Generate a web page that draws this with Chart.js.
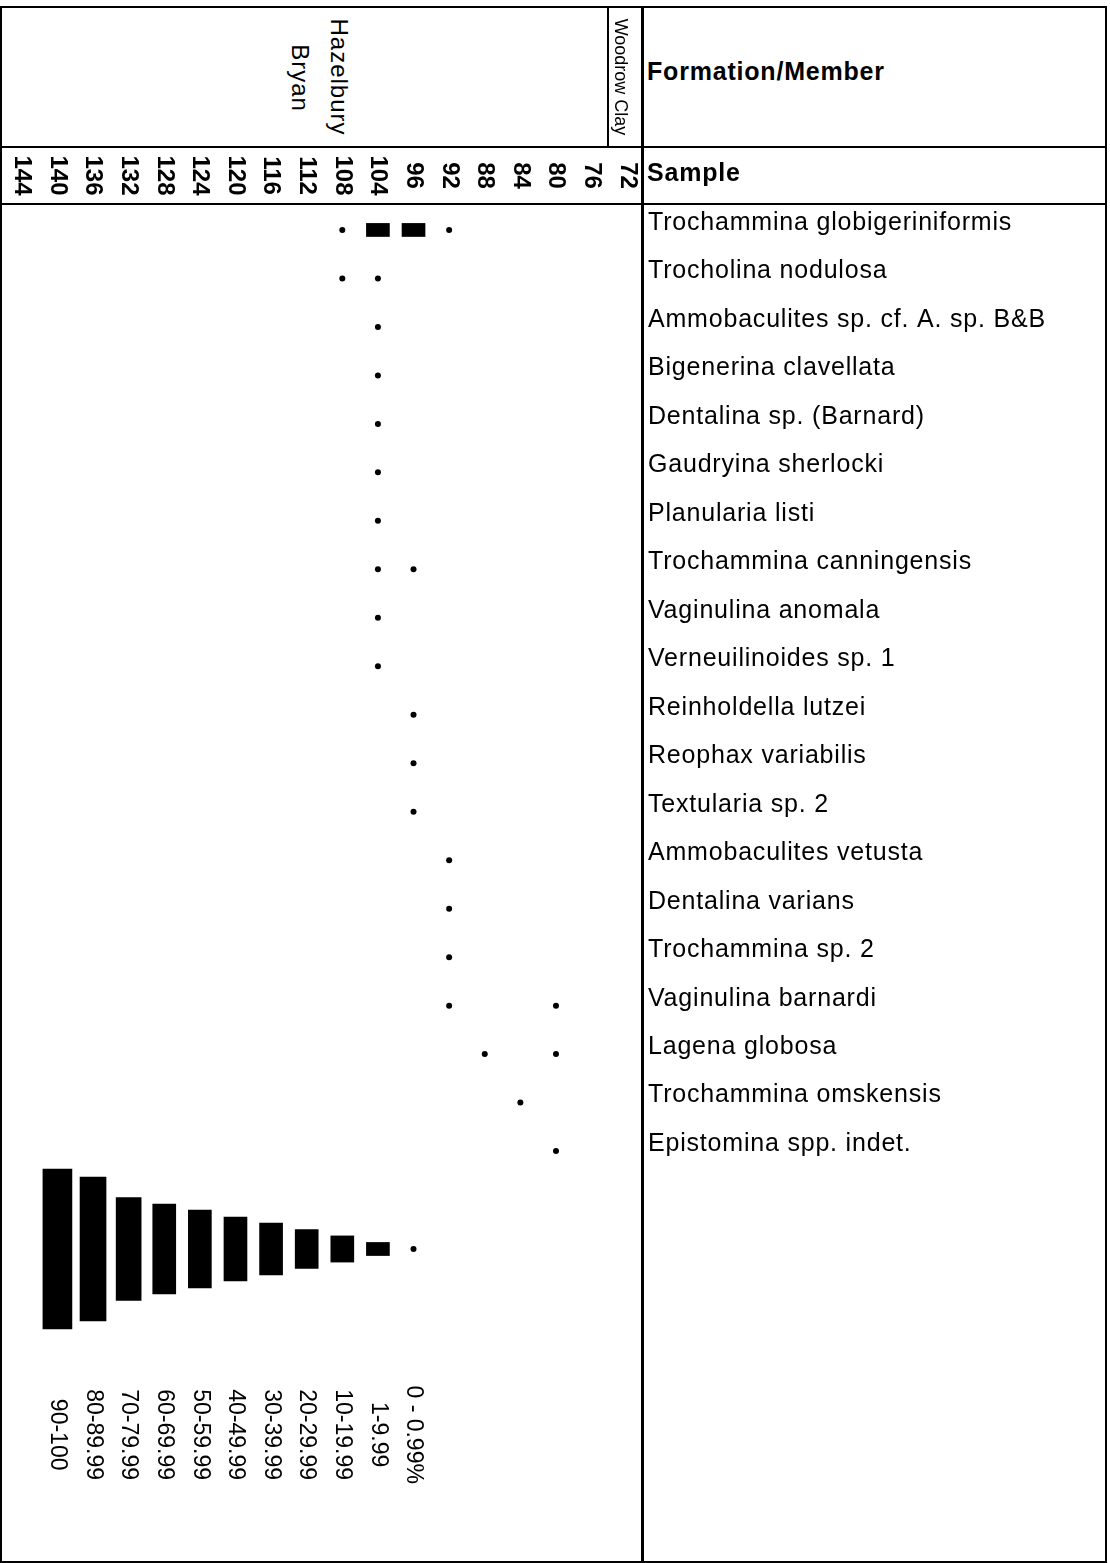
<!DOCTYPE html>
<html>
<head>
<meta charset="utf-8">
<script src="https://cdn.jsdelivr.net/npm/chart.js@4.4.0/dist/chart.umd.min.js"></script>
<style>
  html, body { margin: 0; padding: 0; background: #fff; }
  body { width: 1110px; height: 1563px; position: relative; overflow: hidden;
         font-family: "Liberation Sans", Arial, sans-serif; color: #000; }
  .line { position: absolute; background: #000; }
  .rot { position: absolute; white-space: nowrap; line-height: 1;
         transform: translate(-50%, -50%) rotate(90deg); }
  .head { position: absolute; left: 647px; font-weight: bold; font-size: 25px; letter-spacing: 0.8px;
          line-height: 1; white-space: nowrap; transform: translateY(-50%); }
  #chartBox { position: absolute; left: 0; top: 147px; width: 1110px; height: 1415px; }
</style>
</head>
<body>
<div id="chartBox"><canvas id="rangeChart"></canvas></div>

<!-- table frame -->
<div class="line" style="left:0;top:6px;width:1107px;height:2px"></div>
<div class="line" style="left:0;top:1561px;width:1107px;height:2px"></div>
<div class="line" style="left:0;top:6px;width:2px;height:1557px"></div>
<div class="line" style="left:1105px;top:6px;width:2px;height:1557px"></div>
<div class="line" style="left:0;top:146px;width:1107px;height:2px"></div>
<div class="line" style="left:0;top:203px;width:1107px;height:2px"></div>
<div class="line" style="left:641px;top:6px;width:3px;height:1557px"></div>
<div class="line" style="left:607px;top:6px;width:2px;height:141px"></div>

<!-- formation / member header -->
<div class="rot" style="left:339px;top:77px;font-size:24px;letter-spacing:1px">Hazelbury</div>
<div class="rot" style="left:300px;top:78px;font-size:24px;letter-spacing:1px">Bryan</div>
<div class="rot" style="left:621px;top:77px;font-size:18px">Woodrow Clay</div>
<div class="head" style="top:71px">Formation/Member</div>
<div class="head" style="top:172px">Sample</div>

<script>
// Samples (oldest on the left)
const samples = ['144', '140', '136', '132', '128', '124', '120', '116', '112',
                 '108', '104', '96', '92', '88', '84', '80', '76', '72'];

// Taxa, top to bottom
const species = [
    'Trochammina globigeriniformis',
    'Trocholina nodulosa',
    'Ammobaculites sp. cf. A. sp. B&B',
    'Bigenerina clavellata',
    'Dentalina sp. (Barnard)',
    'Gaudryina sherlocki',
    'Planularia listi',
    'Trochammina canningensis',
    'Vaginulina anomala',
    'Verneuilinoides sp. 1',
    'Reinholdella lutzei',
    'Reophax variabilis',
    'Textularia sp. 2',
    'Ammobaculites vetusta',
    'Dentalina varians',
    'Trochammina sp. 2',
    'Vaginulina barnardi',
    'Lagena globosa',
    'Trochammina omskensis',
    'Epistomina spp. indet.'
];

// Abundance classes (% of assemblage)
const abundanceClasses = ['0 - 0.99%', '1-9.99', '10-19.99', '20-29.99', '30-39.99', '40-49.99',
                          '50-59.99', '60-69.99', '70-79.99', '80-89.99', '90-100'];

// Records: taxon index, sample, abundance class index
const recSpecies = [0, 0, 0, 0, 1, 1, 2, 3, 4, 5, 6, 7, 7, 8, 9, 10, 11, 12, 13, 14, 15, 16, 16, 17, 17, 18, 19];
const recSample = ['108', '104', '96', '92', '108', '104', '104', '104', '104', '104', '104', '104', '96',
                   '104', '104', '96', '96', '96', '92', '92', '92', '92', '80', '88', '80', '84', '80'];
const recClass = [0, 1, 1, 0, 0, 0, 0, 0, 0, 0, 0, 0, 0, 0, 0, 0, 0, 0, 0, 0, 0, 0, 0, 0, 0, 0, 0];

// Key styling: bar height (row units) and bar width (px) of each class
const classHeight = [0, 0.27, 0.54, 0.80, 1.07, 1.32, 1.61, 1.85, 2.12, 2.97, 3.30];
const classWidth = [0, 23, 23, 23, 23, 23, 23, 23, 25, 26, 29];
const keySample = ['96', '104', '108', '112', '116', '120', '124', '128', '132', '136', '140'];
const keyRow = 21.02;
const keyLabelRow = 24.85;

const FONT = '"Liberation Sans", Arial, sans-serif';
Chart.defaults.font.family = FONT;
Chart.defaults.color = '#000';

function barRange(row, c) {
    return [row - classHeight[c] / 2, row + classHeight[c] / 2];
}

const datasets = [];

// rare occurrences as dots, plus the key dot
const dotData = [];
recClass.forEach((c, i) => {
    if (c === 0) dotData.push({ x: recSample[i], y: recSpecies[i] });
});
dotData.push({ x: keySample[0], y: keyRow });
datasets.push({
    type: 'line',
    label: abundanceClasses[0],
    data: dotData,
    showLine: false,
    pointRadius: 3,
    pointBorderWidth: 0,
    pointBackgroundColor: '#000',
    borderColor: '#000'
});

// one bar dataset per abundance class, plus the key bar
for (let c = 1; c < abundanceClasses.length; c++) {
    const data = [];
    recClass.forEach((rc, i) => {
        if (rc === c) data.push({ x: recSample[i], y: barRange(recSpecies[i], c) });
    });
    data.push({ x: keySample[c], y: barRange(keyRow, c) });
    datasets.push({
        type: 'bar',
        label: abundanceClasses[c],
        data: data,
        grouped: false,
        barThickness: classWidth[c],
        backgroundColor: '#000',
        borderWidth: 0
    });
}

// rotated sample labels and key labels
const rotatedLabels = {
    id: 'rotatedLabels',
    beforeDraw(chart) {
        chart.ctx.letterSpacing = '0.8px';
    },
    afterDraw(chart) {
        const ctx = chart.ctx;
        const xs = chart.scales.x;
        const ys = chart.scales.y;
        ctx.save();
        ctx.letterSpacing = '0px';
        ctx.fillStyle = '#000';
        ctx.textAlign = 'center';
        ctx.textBaseline = 'middle';

        ctx.font = 'bold 24px ' + FONT;
        const midY = (xs.top + xs.bottom) / 2;
        xs.ticks.forEach((t, i) => {
            ctx.save();
            ctx.translate(xs.getPixelForTick(i), midY);
            ctx.rotate(Math.PI / 2);
            ctx.fillText(xs.getLabelForValue(t.value), 0, 0);
            ctx.restore();
        });

        ctx.font = '23px ' + FONT;
        const ly = ys.getPixelForValue(keyLabelRow);
        abundanceClasses.forEach((lab, c) => {
            ctx.save();
            ctx.translate(xs.getPixelForValue(samples.indexOf(keySample[c])), ly);
            ctx.rotate(Math.PI / 2);
            ctx.fillText(lab, 0, 0);
            ctx.restore();
        });
        ctx.restore();
    }
};

new Chart(document.getElementById('rangeChart'), {
    type: 'bar',
    data: { labels: samples, datasets: datasets },
    options: {
        responsive: true,
        maintainAspectRatio: false,
        animation: false,
        layout: { padding: { left: 2, right: 0, top: 0, bottom: 2 } },
        plugins: {
            legend: { display: false },
            tooltip: { enabled: false }
        },
        scales: {
            x: {
                type: 'category',
                position: 'top',
                offset: true,
                grid: { display: false, drawTicks: false },
                border: { display: false },
                ticks: { display: false },
                afterFit: s => {
                    s.height = 57;
                    s.paddingLeft = 0;
                    s.paddingRight = 0;
                }
            },
            y: {
                type: 'linear',
                position: 'right',
                reverse: true,
                min: -0.5355,
                max: 27.394,
                grid: { display: false, drawTicks: false },
                border: { display: false },
                afterBuildTicks: s => {
                    s.ticks = species.map((n, i) => ({ value: i }));
                },
                ticks: {
                    autoSkip: false,
                    padding: 3,
                    labelOffset: -7,
                    color: '#000',
                    font: { size: 25 },
                    callback: v => species[v]
                },
                afterFit: s => {
                    s.width = 465;
                    s.paddingTop = 0;
                    s.paddingBottom = 0;
                }
            }
        }
    },
    plugins: [rotatedLabels]
});
</script>
</body>
</html>
